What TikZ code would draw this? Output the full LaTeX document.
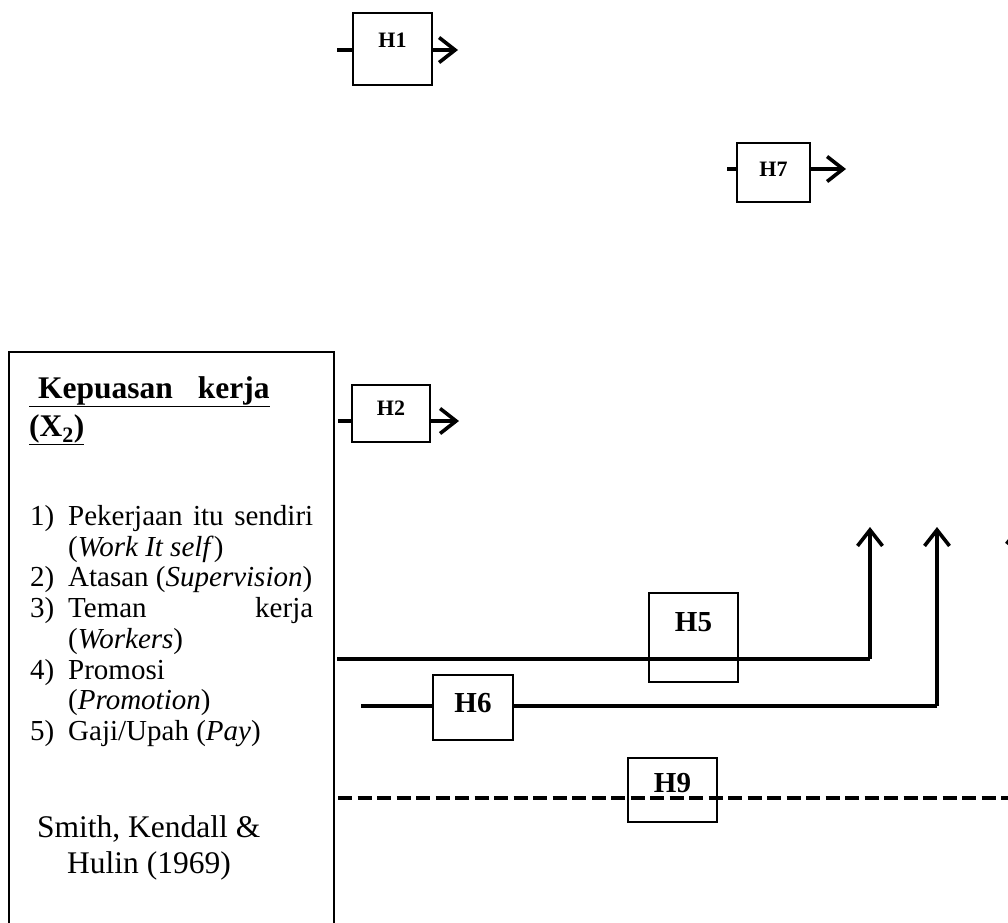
\documentclass[tikz,border=0pt]{standalone}
\usepackage{fontspec}
\setmainfont{Liberation Serif}
\usetikzlibrary{arrows.meta}
\begin{document}
\begin{tikzpicture}[x=1pt,y=-1pt,
  hbox/.style={draw, line width=1.7pt, inner sep=0pt},
  conn/.style={line width=3.6pt},
  arr/.style={line width=3.6pt, -{Straight Barb[length=16pt,width=25pt]}},
  dashconn/.style={line width=3.6pt, dash pattern=on 14pt off 5.5pt},
  hsmall/.style={font=\bfseries\fontsize{22}{26}\selectfont, inner sep=0pt},
  hbig/.style={font=\bfseries\fontsize{29}{34}\selectfont, inner sep=0pt},
  body/.style={font=\fontsize{29}{34}\selectfont, anchor=base west, inner sep=0pt},
  ttl/.style={font=\bfseries\fontsize{31.5}{36}\selectfont, anchor=base west, inner sep=0pt},
  cite/.style={font=\fontsize{31.5}{36}\selectfont, anchor=base west, inner sep=0pt}]
\useasboundingbox (0,0) rectangle (1008,922);
\clip (0,0) rectangle (1008,922);
\fill[white] (0,0) rectangle (1008,922);

% main box (open at bottom)
\draw[line width=2pt] (9,930) -- (9,352) -- (334,352) -- (334,930);
\node[ttl] (t1) at (29,398) {\underline{\hspace{9pt}Kepuasan\hspace{25pt}kerja}};
\node[ttl] (t2) at (29,436) {\underline{(X\textsubscript{2})}};

\node[body] (n1) at (30,525) {1)};
\node[body] (l1) at (68,525) {\makebox[245pt][s]{Pekerjaan itu sendiri}};
\node[body] (l1b) at (68,556) {(\textit{Work It self})};
\node[body] (n2) at (30,586) {2)};
\node[body] (l2) at (68,586) {Atasan (\textit{Supervision})};
\node[body] (n3) at (30,617) {3)};
\node[body] (l3) at (68,617) {\makebox[245pt][s]{Teman kerja}};
\node[body] (l3b) at (68,648) {(\textit{Workers})};
\node[body] (n4) at (30,679) {4)};
\node[body] (l4) at (68,679) {Promosi};
\node[body] (l4b) at (68,709) {(\textit{Promotion})};
\node[body] (n5) at (30,740) {5)};
\node[body] (l5) at (68,740) {Gaji/Upah (\textit{Pay})};
\node[cite] (c1) at (37,837) {Smith, Kendall \&};
\node[cite] (c2) at (67,873) {Hulin (1969)};

% H1
\node[hbox, minimum width=79pt, minimum height=72pt] (h1box) at (392.5,49) {};
\node[hsmall] (h1) at (392.5,40) {H1};
\coordinate (h1s) at (337,50);
\coordinate (h1e) at (458,50);
\draw[conn] (h1s) -- (h1s -| h1box.west);
\draw[arr] (h1s -| h1box.east) -- (h1e);

% H7
\node[hbox, minimum width=73pt, minimum height=59pt] (h7box) at (773.5,172.5) {};
\node[hsmall] (h7) at (773.5,169) {H7};
\coordinate (h7s) at (727,169);
\coordinate (h7e) at (846,169);
\draw[conn] (h7s) -- (h7s -| h7box.west);
\draw[arr] (h7s -| h7box.east) -- (h7e);

% H2
\node[hbox, minimum width=78pt, minimum height=57pt] (h2box) at (391,413.5) {};
\node[hsmall] (h2) at (391,408) {H2};
\coordinate (h2s) at (338,421);
\coordinate (h2e) at (459,421);
\draw[conn] (h2s) -- (h2s -| h2box.west);
\draw[arr] (h2s -| h2box.east) -- (h2e);

% H5
\node[hbox, minimum width=89pt, minimum height=89pt] (h5box) at (693.5,637.5) {};
\node[hbig] (h5) at (693.5,622) {H5};
\coordinate (h5s) at (337,659);
\coordinate (h5c) at (870,659);
\coordinate (h5e) at (870,527);
\draw[conn] (h5s) -- (h5c);
\draw[arr] (h5c) -- (h5e);

% H6
\node[hbox, minimum width=80pt, minimum height=65pt] (h6box) at (473,707.5) {};
\node[hbig] (h6) at (473,703) {H6};
\coordinate (h6s) at (361,706);
\coordinate (h6c) at (937,706);
\coordinate (h6e) at (937,527);
\draw[conn] (h6s) -- (h6s -| h6box.west);
\draw[conn] (h6s -| h6box.east) -- (h6c);
\draw[arr] (h6c) -- (h6e);

% right arrow (mostly outside)
\coordinate (rs) at (1019,700);
\coordinate (re) at (1019,525);
\draw[arr] (rs) -- (re);

% H9
\node[hbox, minimum width=89pt, minimum height=64pt] (h9box) at (672.5,790) {};
\node[hbig] (h9) at (672.5,783) {H9};
\coordinate (h9s) at (338,798);
\coordinate (h9e) at (1010,798);
\draw[dashconn] (h9s) -- (h9e);
\end{tikzpicture}
\end{document}
